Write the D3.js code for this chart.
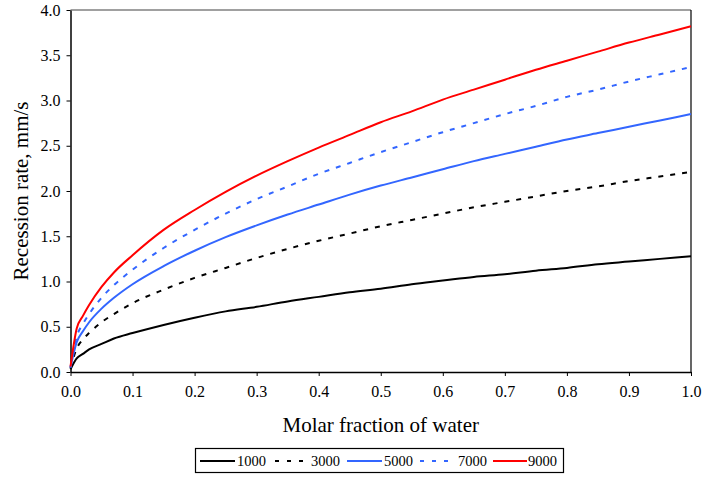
<!DOCTYPE html>
<html>
<head>
<meta charset="utf-8">
<script src="https://cdn.jsdelivr.net/npm/d3@7"></script>
<style>
  html, body { margin: 0; padding: 0; background: #fff; }
  svg { display: block; }
  text { font-family: "Liberation Serif", "Times New Roman", serif; fill: #000; }
</style>
</head>
<body>
<svg id="chart" width="702" height="477"></svg>
<script>
// Molar fraction of water (x)
const molarFraction = [0, 0.01, 0.02, 0.03, 0.05, 0.07, 0.1, 0.15, 0.2, 0.25, 0.3, 0.35, 0.4, 0.45, 0.5, 0.55, 0.6, 0.65, 0.7, 0.75, 0.8, 0.85, 0.9, 0.95, 1.0];

// Recession rate, mm/s, one series per case
const rate1000 = [0.03, 0.15, 0.20, 0.25, 0.31, 0.37, 0.43, 0.52, 0.60, 0.67, 0.72, 0.78, 0.83, 0.88, 0.92, 0.97, 1.01, 1.05, 1.08, 1.12, 1.15, 1.19, 1.22, 1.25, 1.28];
const rate3000 = [0.04, 0.26, 0.36, 0.43, 0.55, 0.64, 0.76, 0.91, 1.04, 1.15, 1.26, 1.36, 1.45, 1.53, 1.61, 1.68, 1.75, 1.82, 1.88, 1.94, 2.00, 2.05, 2.11, 2.16, 2.21];
const rate5000 = [0.05, 0.33, 0.45, 0.55, 0.70, 0.82, 0.97, 1.17, 1.34, 1.49, 1.62, 1.74, 1.85, 1.96, 2.06, 2.15, 2.24, 2.33, 2.41, 2.49, 2.57, 2.64, 2.71, 2.78, 2.85];
const rate7000 = [0.05, 0.39, 0.53, 0.64, 0.82, 0.96, 1.13, 1.37, 1.57, 1.75, 1.91, 2.05, 2.19, 2.31, 2.43, 2.54, 2.65, 2.75, 2.85, 2.94, 3.04, 3.12, 3.21, 3.29, 3.37];
const rate9000 = [0.06, 0.48, 0.62, 0.74, 0.94, 1.10, 1.29, 1.57, 1.79, 1.99, 2.17, 2.33, 2.48, 2.62, 2.76, 2.88, 3.01, 3.12, 3.23, 3.34, 3.44, 3.54, 3.64, 3.73, 3.82];

const seriesNames = ["1000", "3000", "5000", "7000", "9000"];
const xTicks = [0, 0.1, 0.2, 0.3, 0.4, 0.5, 0.6, 0.7, 0.8, 0.9, 1.0];
const yTicks = [0, 0.5, 1.0, 1.5, 2.0, 2.5, 3.0, 3.5, 4.0];

const seriesValues = [rate1000, rate3000, rate5000, rate7000, rate9000];
const seriesStyle = [
  { color: "#000000", dash: null },
  { color: "#000000", dash: "5,7" },
  { color: "#3366ff", dash: null },
  { color: "#3366ff", dash: "5,7" },
  { color: "#ff0000", dash: null }
];

const svg = d3.select("#chart");
const margin = { left: 70.5, right: 11, top: 10, bottom: 105 };
const W = 702, H = 477;
const x = d3.scaleLinear().domain([0, 1]).range([margin.left, W - margin.right]);
const y = d3.scaleLinear().domain([0, 4]).range([H - margin.bottom, margin.top]);

// plot area frame (top and right)
svg.append("line")
  .attr("x1", x(0)).attr("x2", x(1)).attr("y1", y(4)).attr("y2", y(4))
  .attr("stroke", "#808080").attr("stroke-width", 1.5);
svg.append("line")
  .attr("x1", x(1)).attr("x2", x(1)).attr("y1", y(4)).attr("y2", y(0))
  .attr("stroke", "#000").attr("stroke-width", 1.2);

// axes
const xAxis = d3.axisBottom(x).tickValues(xTicks).tickFormat(d3.format(".1f")).tickSize(4).tickSizeOuter(0).tickPadding(7);
const yAxis = d3.axisLeft(y).tickValues(yTicks).tickFormat(d3.format(".1f")).tickSize(4).tickSizeOuter(0).tickPadding(6);

const gx = svg.append("g").attr("transform", `translate(0,${y(0)})`).call(xAxis);
const gy = svg.append("g").attr("transform", `translate(${x(0)},0)`).call(yAxis);
[gx, gy].forEach(g => {
  g.select(".domain").attr("stroke", "#000").attr("stroke-width", 1.5);
  g.selectAll(".tick line").attr("stroke", "#000").attr("stroke-width", 1);
  g.selectAll(".tick text").style("font-family", "'Liberation Serif', serif").style("font-size", "16px").attr("fill", "#000");
});
gx.selectAll(".tick text").attr("dy", "0.85em");

// curves
const line = d3.line()
  .x((d, i) => x(molarFraction[i]))
  .y(d => y(d))
  .curve(d3.curveMonotoneX);

seriesValues.forEach((vals, k) => {
  svg.append("path")
    .datum(vals)
    .attr("d", line)
    .attr("fill", "none")
    .attr("stroke", seriesStyle[k].color)
    .attr("stroke-width", 2)
    .attr("stroke-dasharray", seriesStyle[k].dash);
});

// axis titles
svg.append("text")
  .attr("x", (x(0) + x(1)) / 2).attr("y", 432)
  .attr("text-anchor", "middle")
  .style("font-size", "21px")
  .text("Molar fraction of water");

svg.append("text")
  .attr("transform", `translate(28,${(y(0) + y(4)) / 2}) rotate(-90)`)
  .attr("text-anchor", "middle")
  .style("font-size", "21px")
  .text("Recession rate, mm/s");

// legend
const legend = svg.append("g");
legend.append("rect")
  .attr("x", 195.5).attr("y", 448.5).attr("width", 368).attr("height", 24)
  .attr("fill", "#fff").attr("stroke", "#000").attr("stroke-width", 1.2);

const legendItems = [
  { x0: 200, x1: 235, tx: 237 },
  { x0: 275, x1: 304, tx: 311 },
  { x0: 347, x1: 382, tx: 384 },
  { x0: 420, x1: 450, tx: 458 },
  { x0: 493, x1: 527, tx: 528 }
];
legendItems.forEach((it, k) => {
  legend.append("line")
    .attr("x1", it.x0).attr("x2", it.x1).attr("y1", 461).attr("y2", 461)
    .attr("stroke", seriesStyle[k].color).attr("stroke-width", 2)
    .attr("stroke-dasharray", seriesStyle[k].dash ? "4,8" : null);
  legend.append("text")
    .attr("x", it.tx).attr("y", 466)
    .style("font-size", "14.5px")
    .text(seriesNames[k]);
});
</script>
</body>
</html>
